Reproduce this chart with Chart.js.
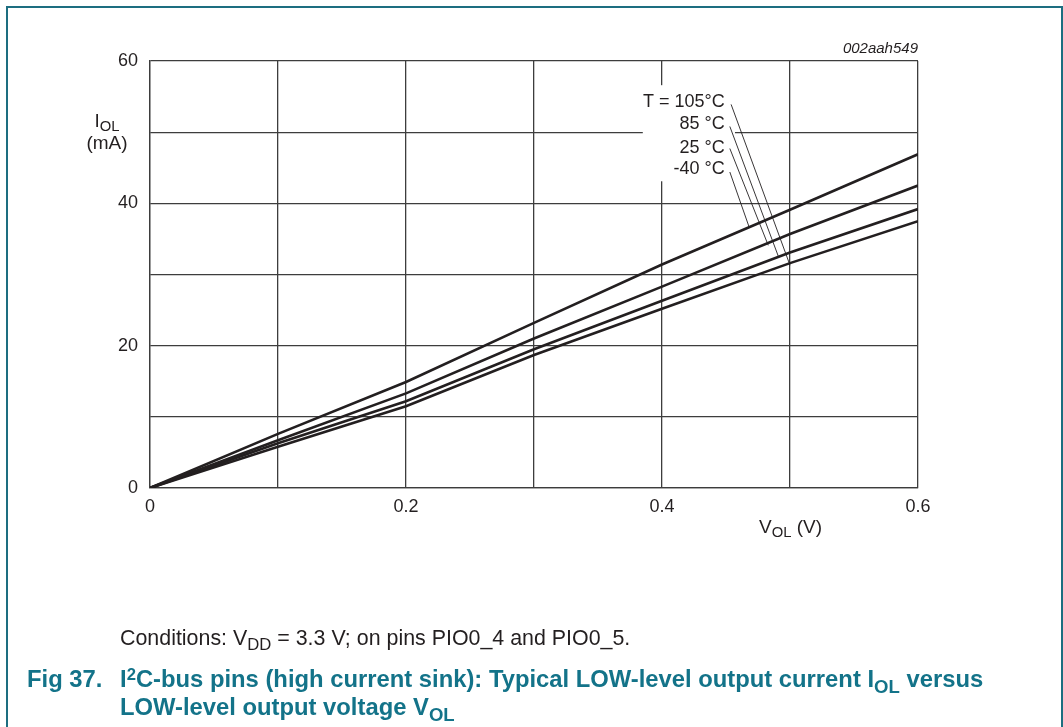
<!DOCTYPE html>
<html>
<head>
<meta charset="utf-8">
<script src="https://cdn.jsdelivr.net/npm/chart.js@4"></script>
<style>
  body { margin: 0; background: #fff; font-family: "Liberation Sans", Arial, sans-serif; }
  #wrap { position: relative; width: 1063px; height: 727px; overflow: hidden; }
  #frame { position: absolute; left: 6px; top: 6px; width: 1053px; height: 800px; border: 2px solid #1d6e80; }
  canvas { position: absolute; left: 0; top: 0; }
  .txt { position: absolute; color: #231f20; white-space: nowrap; }
  sub { font-size: 0.78em; vertical-align: -0.3em; line-height: 0; }
  sup { font-size: 0.7em; vertical-align: 0.45em; line-height: 0; }
  .cap { position: absolute; color: #137389; font-weight: bold; font-size: 23.8px; line-height: 28px; white-space: nowrap; }
</style>
</head>
<body>
<div id="wrap">
  <div id="frame"></div>
  <canvas id="chart" width="1063" height="727"></canvas>
  <div class="txt" style="left:818px; top:39px; width:100px; text-align:right; font-style:italic; font-size:15px;">002aah549</div>
  <div class="txt" style="left:77px; top:110px; width:60px; text-align:center; font-size:19px; line-height:22px;">I<sub>OL</sub><br>(mA)</div>
  <div class="txt" style="left:759px; top:516px; font-size:19px;">V<sub>OL</sub> (V)</div>
  <div class="txt" style="left:120px; top:626px; font-size:21.4px;">Conditions: V<sub>DD</sub> = 3.3 V; on pins PIO0_4 and PIO0_5.</div>
  <div class="cap" style="left:27px; top:665px;">Fig 37.</div>
  <div class="cap" style="left:120px; top:665px;">I<sup>2</sup>C-bus pins (high current sink): Typical LOW-level output current I<sub>OL</sub> versus<br>LOW-level output voltage V<sub>OL</sub></div>
</div>
<script>
const vol = [0, 0.1, 0.2, 0.3, 0.4, 0.5, 0.6];
const temps = ['T = 105°C', '85 °C', '25 °C', '-40 °C'];
const iol105 = [0, 7.6, 14.9, 23.2, 31.4, 39.1, 46.9];
const iol85 = [0, 6.7, 13.3, 21.0, 28.3, 35.7, 42.5];
const iol25 = [0, 6.3, 12.2, 19.5, 26.3, 33.1, 39.2];
const iolm40 = [0, 5.8, 11.5, 18.7, 25.2, 31.6, 37.5];
const xTickLabels = ['0', '', '0.2', '', '0.4', '', '0.6'];
const yTickLabels = ['0', '', '20', '', '40', '', '60'];

// label anchors and leader lines, in data units [V, mA]
const labelPos = [[0.449, 54.2], [0.449, 51.1], [0.449, 47.8], [0.449, 44.8]];
const leaders = [
    [[0.454, 53.9], [0.500, 31.3]],
    [[0.453, 50.8], [0.491, 32.5]],
    [[0.453, 47.7], [0.483, 34.1]],
    [[0.453, 44.4], [0.468, 36.7]]
];
const labelBox = [0.385, 56.6, 0.457, 43.1];

function pts(ys) {
    return vol.map((v, i) => ({ x: v, y: ys[i] }));
}

const ink = '#231f20';
const gridColor = '#3d3d3d';

const annotate = {
    id: 'annotate',
    beforeDatasetsDraw(chart) {
        const { ctx, scales: { x, y } } = chart;
        ctx.save();
        ctx.fillStyle = '#fff';
        const x0 = x.getPixelForValue(labelBox[0]), y0 = y.getPixelForValue(labelBox[1]);
        const x1 = x.getPixelForValue(labelBox[2]), y1 = y.getPixelForValue(labelBox[3]);
        ctx.fillRect(x0, y0, x1 - x0, y1 - y0);
        ctx.restore();
    },
    afterDatasetsDraw(chart) {
        const { ctx, scales: { x, y } } = chart;
        ctx.save();
        ctx.strokeStyle = ink;
        ctx.lineWidth = 0.9;
        leaders.forEach(l => {
            ctx.beginPath();
            ctx.moveTo(x.getPixelForValue(l[0][0]), y.getPixelForValue(l[0][1]));
            ctx.lineTo(x.getPixelForValue(l[1][0]), y.getPixelForValue(l[1][1]));
            ctx.stroke();
        });
        ctx.fillStyle = ink;
        ctx.font = '18px "Liberation Sans", Arial, sans-serif';
        ctx.textAlign = 'right';
        ctx.textBaseline = 'middle';
        temps.forEach((t, i) => {
            ctx.fillText(t, x.getPixelForValue(labelPos[i][0]), y.getPixelForValue(labelPos[i][1]));
        });
        ctx.restore();
    }
};

const line = (label, ys) => ({
    label: label,
    data: pts(ys),
    borderColor: ink,
    borderWidth: 2.6,
    pointRadius: 0,
    tension: 0,
    fill: false
});

new Chart(document.getElementById('chart'), {
    type: 'line',
    data: {
        datasets: [
            line(temps[0], iol105),
            line(temps[1], iol85),
            line(temps[2], iol25),
            line(temps[3], iolm40)
        ]
    },
    options: {
        responsive: false,
        animation: false,
        layout: { padding: { left: 0, top: 61, right: 145, bottom: 0 } },
        plugins: { legend: { display: false }, tooltip: { enabled: false } },
        scales: {
            x: {
                type: 'linear',
                min: 0,
                max: 0.6,
                afterFit: s => { s.height = 239; },
                grid: { color: gridColor, lineWidth: 1.3, drawTicks: false },
                border: { color: gridColor, width: 1.3 },
                ticks: {
                    stepSize: 0.1,
                    padding: 8,
                    color: ink,
                    maxRotation: 0,
                    autoSkip: false,
                    font: { family: '"Liberation Sans", Arial, sans-serif', size: 18 },
                    callback: (v, i) => xTickLabels[i]
                }
            },
            y: {
                min: 0,
                max: 60,
                afterFit: s => { s.width = 150; },
                grid: { color: gridColor, lineWidth: 1.3, drawTicks: false },
                border: { color: gridColor, width: 1.3 },
                ticks: {
                    stepSize: 10,
                    padding: 12,
                    color: ink,
                    font: { family: '"Liberation Sans", Arial, sans-serif', size: 18 },
                    callback: (v, i) => yTickLabels[i]
                }
            }
        }
    },
    plugins: [annotate]
});
</script>
</body>
</html>
